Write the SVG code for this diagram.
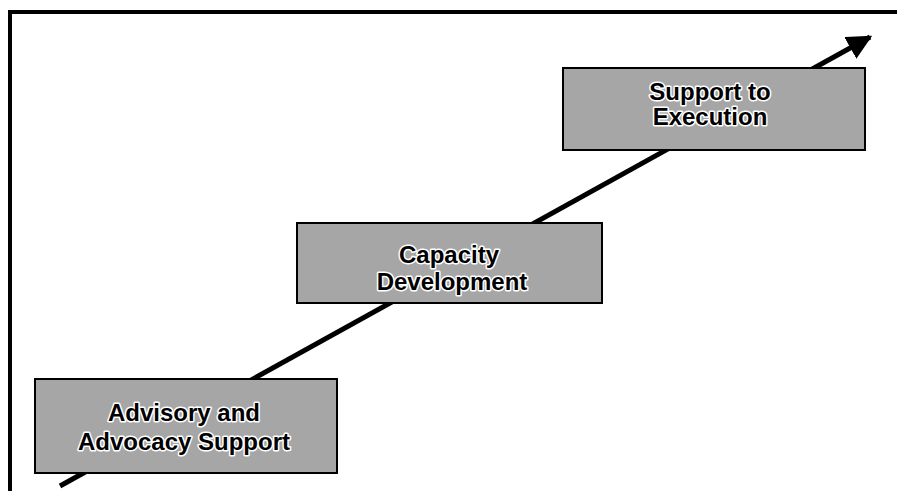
<svg xmlns="http://www.w3.org/2000/svg" width="897" height="491" viewBox="0 0 897 491">
  <style>
    .box { fill: #a6a6a6; stroke: #000; stroke-width: 2; }
    .lbl { font-family: "Liberation Sans", Arial, sans-serif; font-weight: bold; font-size: 24px; fill: #000; stroke: #fff; stroke-width: 3; paint-order: stroke; stroke-linejoin: round; text-anchor: middle; }
    .frame { stroke: #000; stroke-width: 4; fill: none; }
  </style>
  <defs>
    <marker id="ah" viewBox="0 0 10 10" refX="9" refY="5" markerWidth="5" markerHeight="5" orient="auto" markerUnits="strokeWidth">
      <path d="M0,0 L10,5 L0,10 Z" fill="#000"/>
    </marker>
  </defs>
  <rect width="897" height="491" fill="#fff"/>
  <g id="frame">
    <path class="frame" d="M10,491 L10,12 L897,12"/>
  </g>
  <g id="connectors">
    <line x1="60" y1="486" x2="870" y2="37" stroke="#000" stroke-width="5" marker-end="url(#ah)"/>
  </g>
  <g id="node-advisory">
    <rect class="box" x="35" y="379" width="302" height="94"/>
    <text class="lbl" x="184" y="421">Advisory and</text>
    <text class="lbl" x="184" y="450">Advocacy Support</text>
  </g>
  <g id="node-capacity">
    <rect class="box" x="297" y="223" width="305" height="80"/>
    <text class="lbl" x="449" y="263">Capacity</text>
    <text class="lbl" x="452" y="290">Development</text>
  </g>
  <g id="node-support">
    <rect class="box" x="563" y="68" width="302" height="82"/>
    <text class="lbl" x="710" y="100">Support to</text>
    <text class="lbl" x="710" y="125">Execution</text>
  </g>
</svg>
